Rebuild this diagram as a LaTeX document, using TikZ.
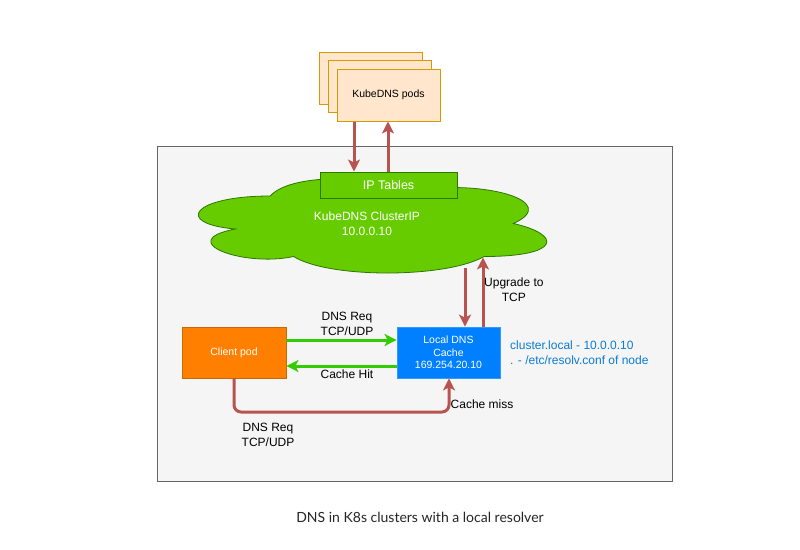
\documentclass[tikz,border=0pt]{standalone}
\usepackage{fontspec}
\setmainfont{Liberation Sans}
\newfontfamily\capfont{Lato}
\usetikzlibrary{arrows.meta,calc}
\definecolor{podfill}{HTML}{FFE6CC}
\definecolor{podline}{HTML}{D79B00}
\definecolor{grfill}{HTML}{66CC00}
\definecolor{grline}{HTML}{2D7600}
\definecolor{bluefill}{HTML}{007FFF}
\definecolor{blueline}{HTML}{3399FF}
\definecolor{orfill}{HTML}{FF8000}
\definecolor{orline}{HTML}{C96A00}
\definecolor{redarr}{HTML}{B85450}
\definecolor{grarr}{HTML}{33CC00}
\definecolor{bluetxt}{HTML}{0A7BD8}
\definecolor{panel}{HTML}{F5F5F5}
\definecolor{panelline}{HTML}{666666}
\tikzset{
  podbox/.style={draw=podline, fill=podfill, line width=1pt, minimum width=103pt, minimum height=52pt, inner sep=0pt},
  redline/.style={draw=redarr, line width=3pt, -{Stealth[length=12pt,width=12pt,inset=3pt]}},
  greenline/.style={draw=grarr, line width=3pt, -{Stealth[length=12pt,width=12pt,inset=3pt]}},
  lbl/.style={font=\fontsize{12}{15}\selectfont, align=center, text=black, inner sep=0pt},
  whitelbl/.style={font=\fontsize{10.5}{13}\selectfont, align=center, text=white, inner sep=0pt},
}
\begin{document}
\begin{tikzpicture}[x=1pt,y=-1pt]
\useasboundingbox[fill=white] (0,0) rectangle (800,549);
% panel
\draw[panelline, fill=panel, line width=0.8pt] (157,146) rectangle (672,481);
% pods
\node[podbox] (pod3) at (370.5,78) {};
\node[podbox] (pod2) at (379.5,86) {};
\node[podbox, font=\fontsize{10.5}{12}\selectfont] (pod1) at (388.5,95) {KubeDNS pods};
% cloud
\filldraw[fill=grfill, draw=grline, line width=0.8pt] (270.25,196) .. controls (192.45,196) and (173,223.5) .. (235.24,229)
  .. controls (173,241.1) and (243.02,267.5) .. (293.59,256.5)
  .. controls (328.6,278.5) and (445.3,278.5) .. (484.2,256.5)
  .. controls (562,256.5) and (562,234.5) .. (513.375,223.5)
  .. controls (562,201.5) and (484.2,179.5) .. (416.125,190.5)
  .. controls (367.5,174) and (289.7,174) .. (270.25,196) -- cycle;
\node[whitelbl, font=\fontsize{12}{15}\selectfont] (cloud) at (367,223.5) {KubeDNS ClusterIP\\10.0.0.10};
% IP tables
\node[draw=grline, fill=grfill, line width=1pt, minimum width=137pt, minimum height=26pt, inner sep=0pt, text=white, font=\fontsize{12.5}{13}\selectfont] (ipt) at (388.5,185) {IP Tables};
% boxes
\node[draw=orline, fill=orfill, line width=0.8pt, minimum width=104pt, minimum height=51pt, inner sep=0pt, whitelbl] (client) at (234,352.5) {Client pod};
\node[draw=blueline, fill=bluefill, line width=0.8pt, minimum width=103pt, minimum height=51pt, inner sep=0pt, whitelbl, font=\fontsize{10.5}{12.5}\selectfont] (cache) at (448.5,352.5) {Local DNS\\Cache\\169.254.20.10};
% coordinates on cloud
\coordinate (cb1) at (465,268);
\coordinate (cb2) at (483,257.5);
\coordinate (pa) at (354,0);
\coordinate (pb) at (388,0);
% pods <-> ip tables
\draw[redline] (pod1.south -| pa) -- (ipt.north -| pa);
\draw[redline] (ipt.north -| pb) -- (pod1.south -| pb);
% cloud <-> cache
\draw[redline] (cb1) -- (cache.north -| cb1);
\draw[redline] (cache.north -| cb2) -- (cb2);
\node[lbl, anchor=north west] (upg) at (484,278) {Upgrade to};
\node[lbl, anchor=north] (tcp) at (upg.south) [yshift=-3pt] {TCP};
% green arrows
\coordinate (g1) at (0,340);
\coordinate (g2) at (0,366);
\draw[greenline] (client.east |- g1) -- (cache.west |- g1);
\draw[greenline] (cache.west |- g2) -- (client.east |- g2);
\node[lbl] (req1) at (347,323.5) {DNS Req\\TCP/UDP};
\node[lbl] (hit) at (347,374.5) {Cache Hit};
% cache miss path
\coordinate (m1) at (234,412);
\coordinate (m2) at (449,412);
\draw[redline, rounded corners=7pt] (client.south -| m1) -- (m1) -- (m2) -- (cache.south -| m2);
\node[lbl] (miss) at (482,404) {Cache miss};
\node[lbl] (req2) at (268,434.5) {DNS Req\\TCP/UDP};
% blue note
\node[lbl, text=bluetxt, align=left, anchor=west, font=\fontsize{12}{15}\selectfont] (note) at (510,352.5) {cluster.local - 10.0.0.10\\. - /etc/resolv.conf of node};
% caption
\node[font=\capfont\fontsize{14}{16}\selectfont, text=black!85] (cap) at (420,517) {DNS in K8s clusters with a local resolver};
\end{tikzpicture}
\end{document}
